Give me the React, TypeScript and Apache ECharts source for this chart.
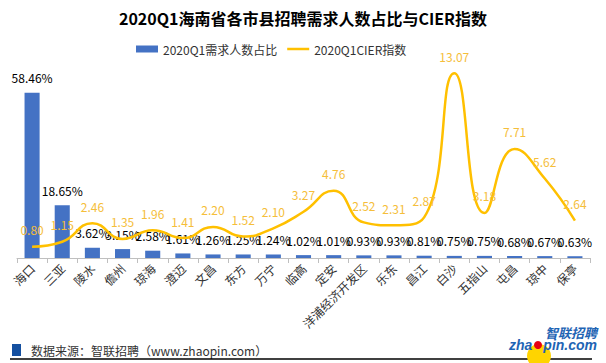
import React, { useEffect, useRef } from "react";
import * as echarts from "echarts";

const categories = ["海口", "三亚", "陵水", "儋州", "琼海", "澄迈", "文昌", "东方", "万宁", "临高", "定安", "洋浦经济开发区", "乐东", "昌江", "白沙", "五指山", "屯昌", "琼中", "保亭"];
const demandShare = [58.46, 18.65, 3.62, 3.15, 2.58, 1.61, 1.26, 1.25, 1.24, 1.02, 1.01, 0.93, 0.93, 0.81, 0.75, 0.75, 0.68, 0.67, 0.63];
const cierIndex = [0.80, 1.15, 2.46, 1.35, 1.96, 1.41, 2.20, 1.52, 2.10, 3.27, 4.76, 2.52, 2.31, 2.87, 13.07, 3.18, 7.71, 5.62, 2.64];

const FONT = "'Noto Sans CJK SC', 'Noto Sans', sans-serif";

export default function App() {
  const ref = useRef<HTMLDivElement>(null);
  useEffect(() => {
    if (!ref.current) return;
    const chart = echarts.init(ref.current, null, { renderer: "svg" });
    chart.setOption({
      animation: false,
      backgroundColor: "#ffffff",
      textStyle: { fontFamily: FONT },
      title: {
        text: "2020Q1海南省各市县招聘需求人数占比与CIER指数",
        left: "center",
        top: 5,
        textStyle: { fontSize: 16, fontWeight: "bold", color: "#000", fontFamily: FONT },
      },
      legend: {
        left: 131,
        top: 38,
        itemGap: 10,
        itemWidth: 22,
        itemHeight: 7,
        textStyle: { fontSize: 12, color: "#333", fontFamily: FONT },
        data: [
          { name: "2020Q1需求人数占比", icon: "rect" },
          { name: "2020Q1CIER指数", icon: "path://M0,0 L22,0 L22,2.5 L0,2.5 Z" },
        ],
      },
      grid: { left: 17, right: 16, top: 60, bottom: 105 },
      xAxis: {
        type: "category",
        data: categories,
        boundaryGap: true,
        axisLine: { lineStyle: { color: "#BFBFBF" } },
        axisTick: { show: true, length: 5, lineStyle: { color: "#BFBFBF" } },
        axisLabel: { rotate: 45, interval: 0, fontSize: 12, color: "#333", margin: 8, fontFamily: FONT },
      },
      yAxis: [
        { type: "value", min: 0, max: 70, show: false, splitLine: { show: false } },
        { type: "value", min: 0, max: 14, show: false, splitLine: { show: false } },
      ],
      series: [
        {
          name: "2020Q1需求人数占比",
          type: "bar",
          data: demandShare,
          yAxisIndex: 0,
          barWidth: "50%",
          itemStyle: { color: "#4472C4" },
          label: {
            show: true,
            position: "top",
            distance: 9,
            fontSize: 12,
            color: "#000",
            fontFamily: FONT,
            formatter: (p: any) => p.value.toFixed(2) + "%",
          },
        },
        {
          name: "2020Q1CIER指数",
          type: "line",
          data: cierIndex,
          yAxisIndex: 1,
          smooth: 0.5,
          symbol: "circle",
          symbolSize: 0.1,
          showSymbol: true,
          lineStyle: { color: "#FFC000", width: 2.5 },
          itemStyle: { color: "#FFC000" },
          z: 5,
          label: {
            show: true,
            position: "top",
            distance: 11,
            fontSize: 12,
            color: "#F5BE3A",
            fontFamily: FONT,
            formatter: (p: any) => p.value.toFixed(2),
          },
        },
      ],
      graphic: [
        { type: "rect", shape: { x: 12, y: 344, width: 9, height: 12 }, style: { fill: "#1550A0" } },
        {
          type: "text",
          x: 31,
          y: 350,
          style: { text: "数据来源：智联招聘（www.zhaopin.com）", fontSize: 12, fill: "#333", fontFamily: FONT, verticalAlign: "middle" },
        },
        { type: "line", shape: { x1: 10, y1: 359, x2: 592, y2: 359 }, style: { stroke: "#000", lineWidth: 1.5 } },
        { type: "circle", shape: { cx: 539, cy: 356, r: 12 }, style: { fill: "#FFD400" } },
        { type: "circle", shape: { cx: 538, cy: 345, r: 4 }, style: { fill: "#E60012" } },
        {
          type: "text",
          x: 597,
          y: 332,
          style: { text: "智联招聘", fontSize: 13, fontStyle: "italic", fontWeight: "bold", fill: "#1E64B4", align: "right", verticalAlign: "middle", fontFamily: FONT },
        },
        {
          type: "text",
          x: 509,
          y: 345,
          style: { text: "zha", fontSize: 14, fontStyle: "italic", fontWeight: "bold", fill: "#1E64B4", align: "left", verticalAlign: "middle", fontFamily: "Arial, 'Liberation Sans', sans-serif" },
        },
        {
          type: "text",
          x: 597,
          y: 345,
          style: { text: "pin.com", fontSize: 14, fontStyle: "italic", fontWeight: "bold", fill: "#1E64B4", align: "right", verticalAlign: "middle", fontFamily: "Arial, 'Liberation Sans', sans-serif" },
        },
      ],
    });
    return () => chart.dispose();
  }, []);
  return <div ref={ref} style={{ width: 606, height: 363, position: "absolute", left: 0, top: 0 }} />;
}
